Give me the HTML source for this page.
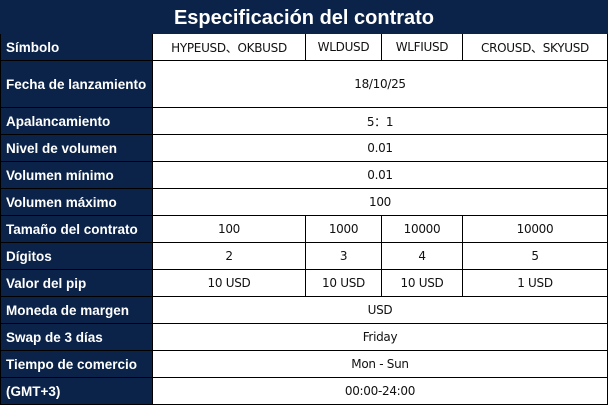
<!DOCTYPE html>
<html><head><meta charset="utf-8"><style>
body{margin:0;width:608px;height:405px;background:#fff;overflow:hidden;position:relative;font-family:"DejaVu Sans","Liberation Sans","Noto Sans CJK SC",sans-serif;}
.t{position:absolute;left:0;top:0;width:608px;height:34px;background:#0b2348;color:#fff;font:bold 20px "Liberation Sans",sans-serif;text-align:center;line-height:36px}
.c{position:absolute;box-sizing:border-box;border-right:1px solid #000;border-bottom:1px solid #000;display:flex;align-items:center;justify-content:center;font-size:12px;color:#111;letter-spacing:-0.3px;white-space:nowrap}
.l{justify-content:flex-start;background:#0b2348;color:#fff;font:bold 13.5px "Liberation Sans",sans-serif;letter-spacing:0;padding-left:5px;border-left:1px solid #000}
</style></head><body>
<div class="t">Especificación del contrato</div>
<div id="g"></div>
<script>
const rows=[
[34,61,"Símbolo",[[153,306,"HYPEUSD、OKBUSD"],[306,382,"WLDUSD"],[382,463,"WLFIUSD"],[463,608,"CROUSD、SKYUSD"]]],
[61,108,"Fecha de lanzamiento",[[153,608,"18/10/25"]]],
[108,135,"Apalancamiento",[[153,608,"5：1"]]],
[135,162,"Nivel de volumen",[[153,608,"0.01"]]],
[162,189,"Volumen mínimo",[[153,608,"0.01"]]],
[189,216,"Volumen máximo",[[153,608,"100"]]],
[216,243,"Tamaño del contrato",[[153,306,"100"],[306,382,"1000"],[382,463,"10000"],[463,608,"10000"]]],
[243,270,"Dígitos",[[153,306,"2"],[306,382,"3"],[382,463,"4"],[463,608,"5"]]],
[270,297,"Valor del pip",[[153,306,"10 USD"],[306,382,"10 USD"],[382,463,"10 USD"],[463,608,"1 USD"]]],
[297,324,"Moneda de margen",[[153,608,"USD"]]],
[324,351,"Swap de 3 días",[[153,608,"Friday"]]],
[351,378,"Tiempo de comercio",[[153,608,"Mon - Sun"]]],
[378,405,"(GMT+3)",[[153,608,"00:00-24:00"]]]];
let h="";
for(const [a,b,lab,cells] of rows){
h+=`<div class="c l" style="left:0;top:${a}px;width:153px;height:${b-a}px">${lab}</div>`;
for(const [x1,x2,t] of cells)h+=`<div class="c" style="left:${x1}px;top:${a}px;width:${x2-x1}px;height:${b-a}px">${t}</div>`;
}
document.getElementById("g").innerHTML=h;
</script>
</body></html>
